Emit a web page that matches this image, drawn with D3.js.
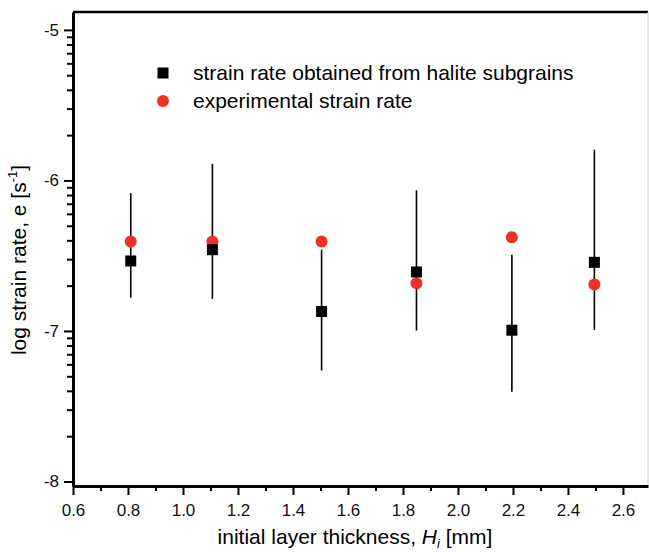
<!DOCTYPE html>
<html>
<head>
<meta charset="utf-8">
<script src="https://cdn.jsdelivr.net/npm/d3@7"></script>
<style>
  body { margin: 0; background: #fff; }
  text { font-family: Arial, "Liberation Sans", sans-serif; }
</style>
</head>
<body>
<div id="chart"></div>
<script>
// data
const thickness = [0.81, 1.107, 1.504, 1.849, 2.196, 2.496];
const subgrainRate = [-6.535, -6.46, -6.871, -6.608, -6.995, -6.544];
const subgrainUpper = [-6.084, -5.889, -6.46, -6.066, -6.493, -5.796];
const subgrainLower = [-6.779, -6.787, -7.263, -6.997, -7.404, -6.993];
const experimentalRate = [-6.405, -6.405, -6.405, -6.683, -6.378, -6.692];
const xTicks = [0.6, 0.8, 1.0, 1.2, 1.4, 1.6, 1.8, 2.0, 2.2, 2.4, 2.6];
const yTicks = [-8, -7, -6, -5];

const margin = { top: 12, right: 1, bottom: 66, left: 73 },
  width = 649 - margin.left - margin.right,
  height = 552 - margin.top - margin.bottom;

const svg = d3.select("#chart")
  .append("svg")
  .attr("width", 649)
  .attr("height", 552)
  .append("g")
  .attr("transform", `translate(${margin.left},${margin.top})`);

const x = d3.scaleLinear().domain([0.6, 2.691]).range([0, width]);
const y = d3.scaleLinear().domain([-8.03, -4.881]).range([height, 0]);

// frame: top and right
svg.append("line")
  .attr("x1", 0).attr("x2", width)
  .attr("y1", 0).attr("y2", 0)
  .attr("stroke", "black").attr("stroke-width", 2.5);
svg.append("line")
  .attr("x1", width).attr("x2", width)
  .attr("y1", 0).attr("y2", height)
  .attr("stroke", "#ccc").attr("stroke-width", 1);

// x axis
const xMinor = d3.range(6, 27).map(d => d / 10).filter(d => !xTicks.some(t => Math.abs(t - d) < 1e-6));
svg.append("g")
  .attr("transform", `translate(0,${height})`)
  .call(d3.axisBottom(x).tickValues(xMinor).tickSize(5).tickFormat(""))
  .call(g => g.select(".domain").remove())
  .selectAll("line").attr("stroke-width", 2);
const xAxis = svg.append("g")
  .attr("transform", `translate(0,${height})`)
  .call(d3.axisBottom(x).tickValues(xTicks).tickSize(9).tickSizeOuter(0).tickPadding(9).tickFormat(d3.format(".1f")));
xAxis.select(".domain").attr("stroke-width", 3);
xAxis.selectAll("line").attr("stroke-width", 2);
xAxis.selectAll("text").attr("font-size", "17px").attr("fill", "#111");

// y axis, minor ticks on log-of-rate positions
const yMinor = [];
[-8, -7, -6, -5].forEach(dec => {
  for (let k = 2; k <= 9; k++) {
    const v = dec + Math.log10(k);
    if (v <= -4.881) yMinor.push(v);
  }
});
svg.append("g")
  .call(d3.axisLeft(y).tickValues(yMinor).tickSize(6).tickFormat(""))
  .call(g => g.select(".domain").remove())
  .selectAll("line").attr("stroke-width", 2);
const yAxis = svg.append("g")
  .call(d3.axisLeft(y).tickValues(yTicks).tickSize(9).tickSizeOuter(0).tickPadding(5).tickFormat(d => String(d)));
yAxis.select(".domain").attr("stroke-width", 3);
yAxis.selectAll("line").attr("stroke-width", 2);
yAxis.selectAll("text").attr("font-size", "17px").attr("fill", "#111");

// error bars
svg.selectAll(".errbar")
  .data(thickness)
  .enter()
  .append("line")
  .attr("class", "errbar")
  .attr("x1", d => x(d))
  .attr("x2", d => x(d))
  .attr("y1", (d, i) => y(subgrainUpper[i]))
  .attr("y2", (d, i) => y(subgrainLower[i]))
  .attr("stroke", "black")
  .attr("stroke-width", 1.6);

// experimental rate (red circles)
svg.selectAll(".exp")
  .data(thickness)
  .enter()
  .append("circle")
  .attr("class", "exp")
  .attr("cx", d => x(d))
  .attr("cy", (d, i) => y(experimentalRate[i]))
  .attr("r", 6)
  .attr("fill", "#ee3124");

// subgrain rate (black squares)
svg.selectAll(".sub")
  .data(thickness)
  .enter()
  .append("rect")
  .attr("class", "sub")
  .attr("x", d => x(d) - 5.5)
  .attr("y", (d, i) => y(subgrainRate[i]) - 5.5)
  .attr("width", 11)
  .attr("height", 11)
  .attr("fill", "black");

// legend
const legend = svg.append("g").attr("transform", "translate(90,61)");
legend.append("rect")
  .attr("x", -5.5).attr("y", -5.5)
  .attr("width", 11).attr("height", 11)
  .attr("fill", "black");
legend.append("circle")
  .attr("cx", 0).attr("cy", 28).attr("r", 6)
  .attr("fill", "#ee3124");
legend.append("text")
  .attr("x", 30).attr("y", 7)
  .attr("font-size", "21px")
  .text("strain rate obtained from halite subgrains");
legend.append("text")
  .attr("x", 30).attr("y", 35)
  .attr("font-size", "21px")
  .text("experimental strain rate");

// axis titles
const xt = svg.append("text")
  .attr("x", 282)
  .attr("y", height + 58)
  .attr("text-anchor", "middle")
  .attr("font-size", "21px");
xt.append("tspan").text("initial layer thickness, ");
xt.append("tspan").attr("font-style", "italic").text("H");
xt.append("tspan").attr("font-style", "italic").attr("font-size", "13px").attr("dy", 4).text("i");
xt.append("tspan").attr("dy", -4).text(" [mm]");

const yt = svg.append("text")
  .attr("transform", `translate(-47,${260 - margin.top}) rotate(-90)`)
  .attr("text-anchor", "middle")
  .attr("font-size", "21px");
yt.append("tspan").text("log strain rate,  e [s");
yt.append("tspan").attr("font-size", "13px").attr("dy", -9).text("-1");
yt.append("tspan").attr("dy", 9).text("]");
</script>
</body>
</html>
